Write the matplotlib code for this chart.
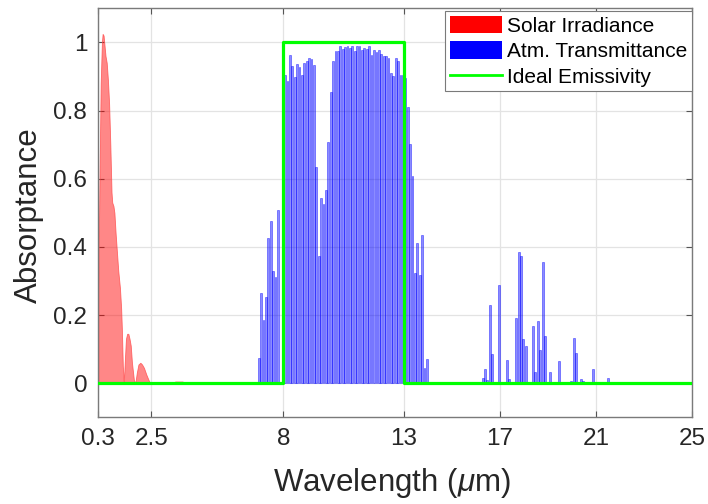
import numpy as np
import matplotlib
matplotlib.use("Agg")
import matplotlib.pyplot as plt
from matplotlib.patches import Patch
from matplotlib.lines import Line2D

# font setup, arial-like look
plt.rcParams['font.family'] = ['Liberation Sans', 'DejaVu Sans']
plt.rcParams['mathtext.fontset'] = 'custom'
plt.rcParams['mathtext.it'] = 'Liberation Sans:italic'
plt.rcParams['mathtext.rm'] = 'Liberation Sans'

# solar irradiance (normalised)
solar_wl = [0.30, 0.35, 0.40, 0.45, 0.48, 0.52, 0.56, 0.60, 0.65, 0.70, 0.75, 0.80,
            0.85, 0.88, 0.93, 0.97, 1.02, 1.08, 1.13, 1.20, 1.25, 1.28, 1.32, 1.36,
            1.40, 1.45, 1.50, 1.55, 1.60, 1.65, 1.70, 1.78, 1.84, 1.90, 1.97, 2.05,
            2.12, 2.20, 2.30, 2.40, 2.46, 3.40, 3.50, 3.80, 3.95]
solar_val = [0.27, 0.60, 0.88, 1.00, 1.025, 1.02, 0.99, 0.96, 0.94, 0.89, 0.82, 0.70,
             0.56, 0.53, 0.52, 0.50, 0.44, 0.38, 0.33, 0.28, 0.22, 0.16, 0.05, 0.0,
             0.06, 0.13, 0.145, 0.145, 0.13, 0.11, 0.06, 0.01, 0.0, 0.03, 0.055, 0.06,
             0.055, 0.045, 0.025, 0.008, 0.0, 0.0, 0.005, 0.005, 0.0]

# atmospheric transmittance, 8-13 um window
atm_wl = [6.97, 7.07, 7.17, 7.27, 7.37, 7.47, 7.57, 7.67, 7.77, 7.87,
          7.97, 8.07, 8.17, 8.27, 8.37, 8.47, 8.57, 8.67, 8.77, 8.87,
          8.97, 9.07, 9.17, 9.27, 9.37, 9.47, 9.57, 9.67, 9.77, 9.87,
          9.97, 10.07, 10.17, 10.27, 10.37, 10.47, 10.57, 10.67, 10.77, 10.87,
          10.97, 11.07, 11.17, 11.27, 11.37, 11.47, 11.57, 11.67, 11.77, 11.87,
          11.97, 12.07, 12.17, 12.27, 12.37, 12.47, 12.57, 12.67, 12.77, 12.87,
          12.97, 13.07, 13.17, 13.27, 13.37, 13.47, 13.57, 13.67, 13.77, 13.87,
          13.97]
atm_val = [0.073, 0.265, 0.186, 0.252, 0.425, 0.476, 0.328, 0.312, 0.507, 0.0,
           0.88, 0.905, 0.886, 0.964, 0.932, 0.898, 0.938, 0.927, 0.903, 0.939,
           0.946, 0.954, 0.951, 0.935, 0.634, 0.374, 0.544, 0.525, 0.567, 0.707,
           0.854, 0.944, 0.974, 0.976, 0.988, 0.981, 0.985, 0.988, 0.983, 0.988,
           0.976, 0.988, 0.988, 0.979, 0.983, 0.981, 0.988, 0.962, 0.979, 0.972,
           0.979, 0.966, 0.959, 0.959, 0.954, 0.910, 0.900, 0.954, 0.944, 0.905,
           0.905, 0.896, 0.81, 0.702, 0.608, 0.322, 0.410, 0.318, 0.435, 0.044,
           0.071]

# second (weak) window 16-21.5 um
atm2_wl = [16.29, 16.38, 16.48, 16.58, 16.68, 16.98, 17.29, 17.40, 17.69, 17.79,
           17.88, 17.98, 18.09, 18.38, 18.48, 18.58, 18.68, 18.79, 18.88, 19.09,
           19.48, 19.98, 20.08, 20.19, 20.38, 20.48, 20.88, 21.51]
atm2_val = [0.015, 0.042, 0.008, 0.23, 0.086, 0.288, 0.068, 0.011, 0.19, 0.386,
            0.374, 0.13, 0.108, 0.167, 0.032, 0.183, 0.096, 0.356, 0.14, 0.032,
            0.064, 0.006, 0.132, 0.088, 0.013, 0.007, 0.042, 0.016]

# ideal emitter: step between 8 and 13 um
ideal_wl = [0.3, 8, 8, 13, 13, 25]
ideal_val = [0, 0, 1, 1, 0, 0]

xticks = [0.3, 2.5, 8, 13, 17, 21, 25]
xticklabels = ['0.3', '2.5', '8', '13', '17', '21', '25']
yticks = [0, 0.2, 0.4, 0.6, 0.8, 1]
yticklabels = ['0', '0.2', '0.4', '0.6', '0.8', '1']

fig = plt.figure(figsize=(7.08, 5.04), dpi=100)
ax = fig.add_axes([98.3 / 708, 1 - 417.3 / 504, (692 - 98.3) / 708, (417.3 - 8.3) / 504])

ax.fill_between(solar_wl, solar_val, 0, color=(1, 0, 0, 0.47), linewidth=0.6,
                edgecolor=(1, 0.3, 0.3, 0.8), zorder=2)
ax.bar(atm_wl + atm2_wl, atm_val + atm2_val, width=0.075,
       facecolor=(0, 0, 1, 0.45), edgecolor=(0, 0, 1, 0.7), linewidth=0.4, zorder=3)
ax.plot(ideal_wl, ideal_val, color='#00ff00', linewidth=2.3, zorder=4)

ax.set_xlim(0.3, 25)
ax.set_ylim(-0.1, 1.1)
ax.set_xticks(xticks)
ax.set_xticklabels(xticklabels)
ax.set_yticks(yticks)
ax.set_yticklabels(yticklabels)

ax.grid(True, color='#e3e3e3', linewidth=0.9, zorder=0)
ax.set_axisbelow(True)
ax.tick_params(direction='in', length=4, width=0.8, color='#555555',
               labelsize=17.5, labelcolor='#262626', top=True, right=True, pad=8)
for sp in ax.spines.values():
    sp.set_color('#7a7a7a')
    sp.set_linewidth(1.0)

ax.set_xlabel(r'Wavelength ($\mu$m)', fontsize=22.5, color='#262626')
ax.set_ylabel('Absorptance', fontsize=22.5, color='#262626')
ax.xaxis.set_label_coords((392 - 98.3) / 593.7, -0.12)
ax.yaxis.set_label_coords(-0.092, (417.3 - 215) / 409)

handles = [Patch(facecolor='red', edgecolor='none'),
           Patch(facecolor='blue', edgecolor='none'),
           Line2D([0], [0], color='#00ff00', linewidth=2)]
labels = ['Solar Irradiance', 'Atm. Transmittance', 'Ideal Emissivity']
leg = ax.legend(handles, labels, loc='upper right', bbox_to_anchor=(1.0, 0.993),
                borderaxespad=0, fontsize=15, fancybox=False, framealpha=1,
                edgecolor='#7a7a7a', handlelength=2.5, handleheight=0.9,
                handletextpad=0.25, labelspacing=0.28, borderpad=0.22)
leg.get_frame().set_linewidth(0.8)

fig.savefig('out.png', dpi=100)
